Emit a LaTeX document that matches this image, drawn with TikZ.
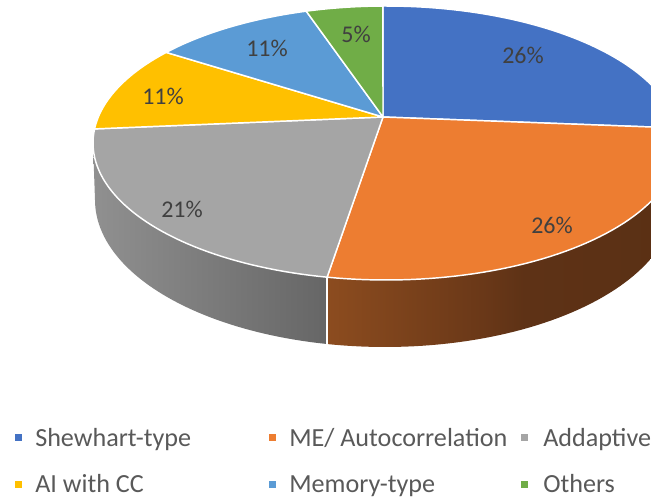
\documentclass[tikz,border=0pt]{standalone}
\usepackage{fontspec}
\setmainfont{Carlito}
\definecolor{cblue}{HTML}{4472C4}
\definecolor{corange}{HTML}{ED7D31}
\definecolor{cgray}{HTML}{A5A5A5}
\definecolor{cyellow}{HTML}{FFC000}
\definecolor{clblue}{HTML}{5B9BD5}
\definecolor{cgreen}{HTML}{70AD47}
\definecolor{labelgray}{HTML}{404040}
\definecolor{leggray}{HTML}{595959}
\definecolor{brownL}{HTML}{8C4C1F}
\definecolor{brownM}{HTML}{6A3818}
\definecolor{brownN}{HTML}{5E3216}
\definecolor{brownR}{HTML}{5A3014}
\definecolor{sideL}{HTML}{909090}
\definecolor{sideR}{HTML}{666666}
\pgfdeclarehorizontalshading{brownshade}{100bp}{color(0bp)=(brownL); color(25bp)=(brownL); color(47bp)=(brownM); color(53bp)=(brownN); color(75bp)=(brownR); color(100bp)=(brownR)}
\begin{document}
\begin{tikzpicture}[x=0.75pt,y=-0.75pt,
  slice/.style={draw=white, line width=1.1pt, line join=round},
  sideedge/.style={draw=white, line width=1pt},
  pct/.style={text=labelgray, font=\fontsize{18}{20}\selectfont, inner sep=0pt},
  legtext/.style={text=leggray, font=\fontsize{19.6}{22}\selectfont, anchor=base west, inner sep=0pt},
  legkey/.style={minimum size=5.25pt, inner sep=0pt, draw=none, rectangle}]
\useasboundingbox (0,0) rectangle (651,502);
\begin{scope}
\clip (0,0) rectangle (651,502);
% sides
\shade[left color=sideL, right color=sideR]
  plot[domain=101.6:180, samples=50, variable=\t] ({386+293*cos(\t)},{143+137*sin(\t)})
  -- plot[domain=180:101.5, samples=50, variable=\t] ({385+290*cos(\t)},{200+147*sin(\t)})
  -- cycle;
\shade[shading=brownshade]
  plot[domain=0:101.6, samples=60, variable=\t] ({386+293*cos(\t)},{143+137*sin(\t)})
  -- plot[domain=101.5:0, samples=60, variable=\t] ({385+290*cos(\t)},{200+147*sin(\t)})
  -- cycle;
\coordinate (st) at (327,278);
\coordinate (sb) at (327,345);
\draw[sideedge] (st) -- (sb);
% top face
\coordinate (apex) at (383,117);
\filldraw[slice, fill=cblue] (apex) -- plot[domain=269.4:353.7, samples=50, variable=\t] ({386+293*cos(\t)},{143+137*sin(\t)}) -- cycle;
\filldraw[slice, fill=corange] (apex) -- plot[domain=-6.3:101.6, samples=60, variable=\t] ({386+293*cos(\t)},{143+137*sin(\t)}) -- cycle;
\filldraw[slice, fill=cgray] (apex) -- plot[domain=101.6:185.9, samples=50, variable=\t] ({386+293*cos(\t)},{143+137*sin(\t)}) -- cycle;
\filldraw[slice, fill=cyellow] (apex) -- plot[domain=185.9:221.4, samples=30, variable=\t] ({386+293*cos(\t)},{143+137*sin(\t)}) -- cycle;
\filldraw[slice, fill=clblue] (apex) -- plot[domain=221.4:254.2, samples=30, variable=\t] ({386+293*cos(\t)},{143+137*sin(\t)}) -- cycle;
\filldraw[slice, fill=cgreen] (apex) -- plot[domain=254.2:269.4, samples=20, variable=\t] ({386+293*cos(\t)},{143+137*sin(\t)}) -- cycle;
\end{scope}
% labels
\node[pct] (lshew) at (523,55) {26\%};
\node[pct] (lme) at (552,225) {26\%};
\node[pct] (ladd) at (182,209) {21\%};
\node[pct] (lai) at (163,96) {11\%};
\node[pct] (lmem) at (267,48) {11\%};
\node[pct] (loth) at (356,34) {5\%};
% legend
\node[legkey, fill=cblue] (k1) at (18,437.5) {};
\node[legtext] (t1) at (35,446.5) {Shewhart-type};
\node[legkey, fill=corange] (k2) at (272,437.5) {};
\node[legtext] (t2) at (289,446.5) {ME/ Autocorrelation};
\node[legkey, fill=cgray] (k3) at (524.5,437.5) {};
\node[legtext] (t3) at (543,446.5) {Addaptive};
\node[legkey, fill=cyellow] (k4) at (18,485) {};
\node[legtext] (t4) at (35,493) {AI with CC};
\node[legkey, fill=clblue] (k5) at (272,485) {};
\node[legtext] (t5) at (289,493) {Memory-type};
\node[legkey, fill=cgreen] (k6) at (524.5,485) {};
\node[legtext] (t6) at (543,493) {Others};
\end{tikzpicture}
\end{document}
